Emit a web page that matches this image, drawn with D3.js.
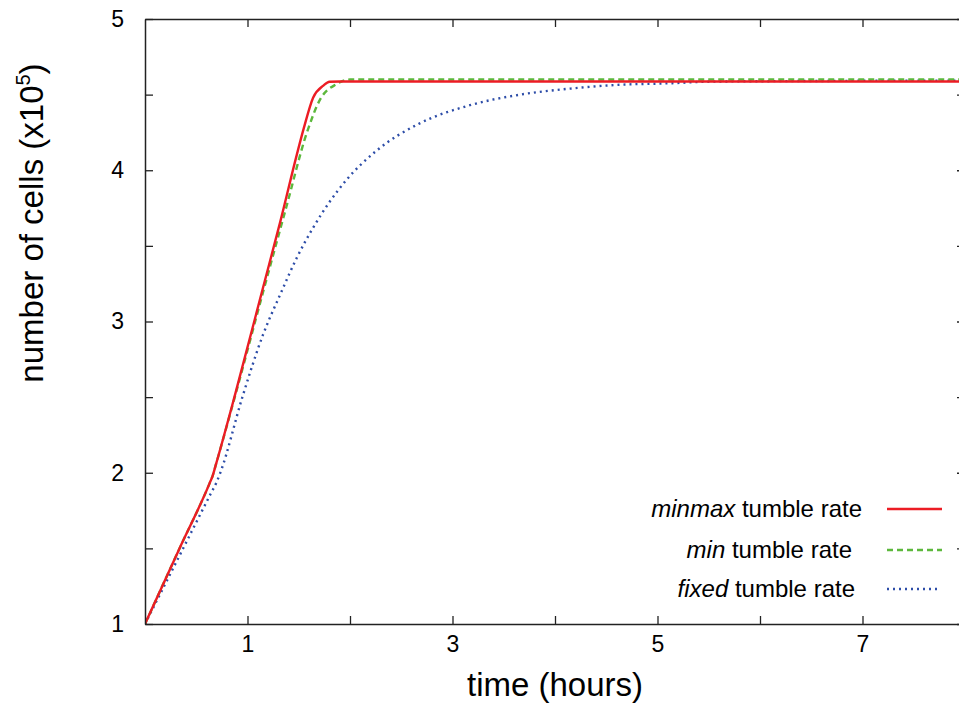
<!DOCTYPE html>
<html>
<head>
<meta charset="utf-8">
<script src="https://cdn.jsdelivr.net/npm/d3@7"></script>
<style>
  body { margin: 0; background: #fff; }
  svg { display: block; font-family: "Liberation Sans", Arial, Helvetica, sans-serif; }
</style>
</head>
<body>
<div id="chart"></div>
<script>
'use strict';

// time (hours) vs number of cells (x10^5)
const timeMinmax = [0, 0.33, 0.63, 0.66, 0.69, 0.88, 1.15, 1.32, 1.48, 1.55, 1.64, 1.74, 1.80, 1.90, 8];
const cellsMinmax = [1, 1.49, 1.93, 1.98, 2.05, 2.52, 3.22, 3.66, 4.10, 4.28, 4.48, 4.56, 4.585, 4.587, 4.587];

const timeMin = [0, 0.33, 0.63, 0.66, 0.69, 0.88, 1.15, 1.38, 1.58, 1.71, 1.87, 2.0, 8];
const cellsMin = [1, 1.49, 1.93, 1.98, 2.05, 2.51, 3.19, 3.76, 4.25, 4.47, 4.57, 4.60, 4.60];

const timeFixed = [0, 0.35, 0.64, 0.70, 0.74, 0.95, 1.15, 1.32, 1.48, 1.64, 1.80, 1.97, 2.26, 2.68, 3.17, 3.66, 4.15, 4.63, 5.12, 5.54, 6.5, 8];
const cellsFixed = [1, 1.47, 1.86, 1.94, 2.01, 2.50, 2.91, 3.18, 3.42, 3.62, 3.79, 3.94, 4.13, 4.31, 4.43, 4.50, 4.54, 4.565, 4.575, 4.586, 4.59, 4.593];

const seriesNames = ["minmax", "min", "fixed"];
const xTicks = [1, 2, 3, 4, 5, 6, 7];
const xTickLabels = [1, 3, 5, 7];
const yTicks = [1, 1.5, 2, 2.5, 3, 3.5, 4, 4.5, 5];
const yTickLabels = [1, 2, 3, 4, 5];

const width = 959, height = 704;
const margin = {top: 19, right: -6, bottom: 80, left: 145};
const innerW = width - margin.left - margin.right;
const innerH = height - margin.top - margin.bottom;

const svg = d3.select("#chart").append("svg")
    .attr("width", width)
    .attr("height", height);

const g = svg.append("g")
    .attr("transform", `translate(${margin.left},${margin.top})`);

const x = d3.scaleLinear().domain([0, 8]).range([0, innerW]);
const y = d3.scaleLinear().domain([1, 5]).range([innerH, 0]);

const series = [
    {name: seriesNames[0], t: timeMinmax, v: cellsMinmax, color: "#ec1c24", dash: null, w: 2.4},
    {name: seriesNames[1], t: timeMin, v: cellsMin, color: "#5cb83c", dash: "6,4", w: 2.4},
    {name: seriesNames[2], t: timeFixed, v: cellsFixed, color: "#2d4da8", dash: "2,4", w: 2.4}
];

g.append("clipPath").attr("id", "plot-clip")
    .append("rect").attr("width", innerW).attr("height", innerH);

const line = d3.line()
    .x(d => x(d[0]))
    .y(d => y(d[1]))
    .curve(d3.curveMonotoneX);

// draw fixed first so the red/green sit on top
g.append("g").attr("clip-path", "url(#plot-clip)")
    .selectAll("path")
    .data(series.slice().reverse())
    .join("path")
    .attr("d", s => line(d3.zip(s.t, s.v)))
    .attr("fill", "none")
    .attr("stroke", s => s.color)
    .attr("stroke-width", s => s.w)
    .attr("stroke-dasharray", s => s.dash);

// axes, ticks inward
const axisColor = "#222";
function styleAxis(sel) {
    sel.select(".domain").attr("stroke", axisColor).attr("stroke-width", 1.5);
    sel.selectAll(".tick line").attr("stroke", axisColor).attr("stroke-width", 1.3);
    sel.selectAll("text").attr("fill", "#000").style("font-size", "23px");
    sel.attr("font-family", null);
}

g.append("g")
    .attr("transform", `translate(0,${innerH})`)
    .call(d3.axisBottom(x).tickValues(xTicks).tickSizeInner(-8).tickSizeOuter(0).tickPadding(12)
        .tickFormat(d => xTickLabels.includes(d) ? d : ""))
    .call(styleAxis);

g.append("g")
    .call(d3.axisTop(x).tickValues(xTicks).tickSizeInner(-8).tickSizeOuter(0).tickFormat(""))
    .call(styleAxis);

g.append("g")
    .call(d3.axisLeft(y).tickValues(yTicks).tickSizeInner(-8).tickSizeOuter(0).tickPadding(21)
        .tickFormat(d => yTickLabels.includes(d) ? d : ""))
    .call(styleAxis);

g.append("g")
    .attr("transform", `translate(${innerW},0)`)
    .call(d3.axisRight(y).tickValues(yTicks).tickSizeInner(-8).tickSizeOuter(0).tickFormat(""))
    .call(styleAxis);

// axis titles
svg.append("text")
    .attr("x", 555)
    .attr("y", 696)
    .attr("text-anchor", "middle")
    .style("font-size", "33px")
    .text("time (hours)");

const yTitle = svg.append("text")
    .attr("transform", "translate(43,223) rotate(-90)")
    .attr("text-anchor", "middle")
    .style("font-size", "33px");
yTitle.append("tspan").text("number of cells (x10");
yTitle.append("tspan").attr("dy", -13).style("font-size", "20px").text("5");
yTitle.append("tspan").attr("dy", 13).text(")");

// legend
const legendRows = [
    {y: 509, textX: 862, x1: 887, x2: 942},
    {y: 550, textX: 852, x1: 887, x2: 942},
    {y: 589, textX: 855, x1: 887, x2: 938}
];

const legend = svg.append("g").attr("class", "legend");
series.forEach((s, i) => {
    const row = legendRows[i];
    const t = legend.append("text")
        .attr("x", row.textX)
        .attr("y", row.y)
        .attr("dy", "0.35em")
        .attr("text-anchor", "end")
        .style("font-size", "24px");
    t.append("tspan").style("font-style", "italic").text(s.name);
    t.append("tspan").text(" tumble rate");
    legend.append("line")
        .attr("x1", row.x1).attr("x2", row.x2)
        .attr("y1", row.y).attr("y2", row.y)
        .attr("stroke", s.color)
        .attr("stroke-width", s.w)
        .attr("stroke-dasharray", s.dash);
});
</script>
</body>
</html>
